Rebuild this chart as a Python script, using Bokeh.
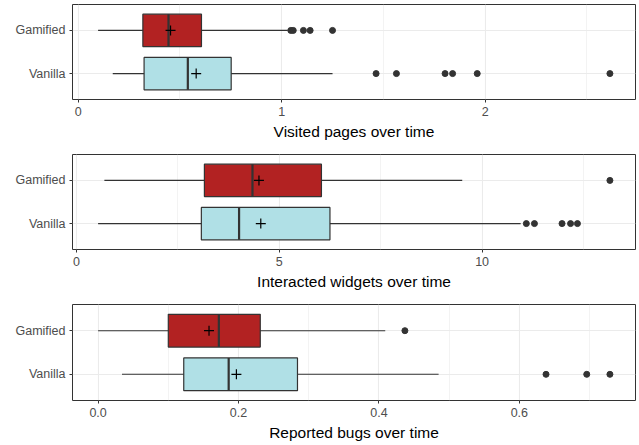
from bokeh.plotting import figure
from bokeh.layouts import column
from bokeh.models import Range1d, FixedTicker, PrintfTickFormatter, BasicTickFormatter
from bokeh.embed import file_html
from bokeh.resources import INLINE

groups = ["Vanilla", "Gamified"]
fills = ["#B0E0E6", "#B22222"]

# Visited pages over time
pages_low = [0.17, 0.098]
pages_q1 = [0.324, 0.318]
pages_med = [0.539, 0.444]
pages_q3 = [0.752, 0.606]
pages_high = [1.25, 1.03]
pages_mean = [0.58, 0.454]
pages_out = [[1.464, 1.564, 1.803, 1.84, 1.961, 2.613], [1.045, 1.057, 1.107, 1.14, 1.25]]
pages_ticks = [0, 1, 2]
pages_minor = [0.5, 1.5, 2.5]

# Interacted widgets over time
widgets_low = [0.535, 0.69]
widgets_q1 = [3.08, 3.155]
widgets_med = [4.01, 4.34]
widgets_q3 = [6.25, 6.04]
widgets_high = [10.95, 9.51]
widgets_mean = [4.545, 4.50]
widgets_out = [[11.09, 11.29, 11.97, 12.18, 12.35], [13.15]]
widgets_ticks = [0, 5, 10]
widgets_minor = [2.5, 7.5, 12.5]

# Reported bugs over time
bugs_low = [0.034, 0.0]
bugs_q1 = [0.122, 0.1]
bugs_med = [0.186, 0.172]
bugs_q3 = [0.284, 0.231]
bugs_high = [0.485, 0.409]
bugs_mean = [0.197, 0.158]
bugs_out = [[0.638, 0.696, 0.729], [0.437]]
bugs_ticks = [0.0, 0.2, 0.4, 0.6]
bugs_minor = [0.1, 0.3, 0.5, 0.7]

FONT = "Liberation Sans"


def panel(title, low, q1, med, q3, high, mean, outs, ticks, minor, fmt, top, bottom, height):
    ys = [i + 1 for i in range(len(groups))]
    allv = low + high + [v for o in outs for v in o]
    lo, hi = min(allv), max(allv)
    pad = (hi - lo) * 0.05
    p = figure(width=639, height=height, output_backend="svg", toolbar_location=None,
               x_range=Range1d(lo - pad, hi + pad), y_range=Range1d(0.4, 2.6),
               min_border_left=72, min_border_right=4, min_border_top=top,
               min_border_bottom=bottom)
    p.outline_line_color = "#333333"
    p.outline_line_width = 1
    p.xgrid.grid_line_color = "#EBEBEB"
    p.xgrid.grid_line_width = 1.1
    p.xgrid.minor_grid_line_color = "#EBEBEB"
    p.xgrid.minor_grid_line_width = 0.6
    p.ygrid.grid_line_color = "#EBEBEB"
    p.ygrid.grid_line_width = 1.1

    p.xaxis.ticker = FixedTicker(ticks=ticks, minor_ticks=minor)
    p.xaxis.formatter = fmt
    p.yaxis.ticker = FixedTicker(ticks=ys)
    p.yaxis.major_label_overrides = {y: g for y, g in zip(ys, groups)}
    for ax in (p.xaxis, p.yaxis):
        ax.axis_line_color = None
        ax.major_tick_line_color = "#333333"
        ax.major_tick_out = 3
        ax.major_tick_in = 0
        ax.minor_tick_line_color = None
        ax.major_label_text_color = "#4D4D4D"
        ax.major_label_text_font = FONT
        ax.major_label_text_font_size = "12.5px"
        ax.major_label_standoff = 3
    p.yaxis.major_label_standoff = 4
    p.xaxis.axis_label = title
    p.xaxis.axis_label_text_font = FONT
    p.xaxis.axis_label_text_font_size = "15.5px"
    p.xaxis.axis_label_text_font_style = "normal"
    p.xaxis.axis_label_text_color = "black"
    p.xaxis.axis_label_standoff = 4

    p.segment(x0=low, y0=ys, x1=high, y1=ys, line_color="#333333", line_width=1.1)
    p.hbar(y=ys, left=q1, right=q3, height=0.75, fill_color=fills,
           line_color="#333333", line_width=1.2)
    h = 0.375
    p.segment(x0=med, y0=[y - h for y in ys], x1=med, y1=[y + h for y in ys],
              line_color="#333333", line_width=2.2)
    ox, oy = [], []
    for y, o in zip(ys, outs):
        ox += o
        oy += [y] * len(o)
    p.scatter(x=ox, y=oy, marker="circle", size=6, fill_color="#333333", line_color="#333333")
    p.scatter(x=mean, y=ys, marker="cross", size=10, line_color="black", line_width=1.2)
    return p


p1 = panel("Visited pages over time", pages_low, pages_q1, pages_med, pages_q3, pages_high,
           pages_mean, pages_out, pages_ticks, pages_minor, BasicTickFormatter(), 4, 51, 150)
p2 = panel("Interacted widgets over time", widgets_low, widgets_q1, widgets_med, widgets_q3,
           widgets_high, widgets_mean, widgets_out, widgets_ticks, widgets_minor,
           BasicTickFormatter(), 4, 51, 150)
p3 = panel("Reported bugs over time", bugs_low, bugs_q1, bugs_med, bugs_q3, bugs_high,
           bugs_mean, bugs_out, bugs_ticks, bugs_minor, PrintfTickFormatter(format="%.1f"),
           4, 45, 145)

layout = column(p1, p2, p3, spacing=0)
open("out.html", "w").write(file_html(layout, INLINE))
